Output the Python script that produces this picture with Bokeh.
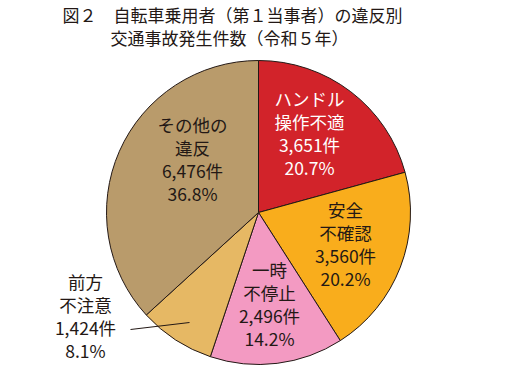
import math
from bokeh.plotting import figure
from bokeh.models import Range1d, ColumnDataSource
from bokeh.core.properties import value
from bokeh.embed import file_html
from bokeh.resources import INLINE

# ---- data ----
title_lines = ["図２　自転車乗用者（第１当事者）の違反別", "交通事故発生件数（令和５年）"]
categories = ["ハンドル\n操作不適", "安全\n不確認", "一時\n不停止", "前方\n不注意", "その他の\n違反"]
counts = [3651, 3560, 2496, 1424, 6476]
colors = ["#D2232A", "#F9AD1C", "#F39AC2", "#E6B864", "#B99B6B"]
text_colors = ["#FFFFFF", "#231815", "#231815", "#231815", "#231815"]

# ---- layout (screen pixels of the page) ----
CX, CY, R = 266, 220, 152
label_pos = [(317, 106), (353, 217), (277, 277), (93, 289), (200, 132)]
LINE_H = 23
FONT = value("Noto Sans CJK JP")

W, H = 513, 374
p = figure(width=W, height=H, output_backend="svg", toolbar_location=None,
           x_range=Range1d(8, 8 + W), y_range=Range1d(-(8 + H), -8),
           min_border=0, outline_line_color=None)
p.axis.visible = False
p.grid.visible = False
p.background_fill_color = "white"
p.border_fill_color = "white"

total = sum(counts)
starts, ends = [], []
cum = 0
for c in counts:
    a0 = math.pi / 2 - 2 * math.pi * cum / total
    cum += c
    a1 = math.pi / 2 - 2 * math.pi * cum / total
    starts.append(a1)
    ends.append(a0)

src = ColumnDataSource(dict(x=[CX] * len(counts), y=[-CY] * len(counts),
                            start=starts, end=ends, color=colors))
p.wedge(x="x", y="y", radius=R, start_angle="start", end_angle="end",
        fill_color="color", line_color="#231815", line_width=1, source=src)

# labels
lx, ly, lt, lc = [], [], [], []
for cat, cnt, col, (px, py) in zip(categories, counts, text_colors, label_pos):
    lines = cat.split("\n") + [f"{cnt:,}件", f"{100 * cnt / total:.1f}%"]
    for i, t in enumerate(lines):
        lx.append(px)
        ly.append(-(py + i * LINE_H))
        lt.append(t)
        lc.append(col)
p.text(x=lx, y=ly, text=lt, text_color=lc, text_font=FONT,
       text_font_size="17.5px", text_align="center", text_baseline="middle")

# leader line for small slice
p.line(x=[138, 197], y=[-337, -330], line_color="#231815", line_width=1)

# title
p.text(x=[70, 118], y=[-22, -45], text=title_lines, text_color="#231815",
       text_font=FONT, text_font_size="17px", text_align="left",
       text_baseline="middle")

open("out.html", "w").write(file_html(p, INLINE))
